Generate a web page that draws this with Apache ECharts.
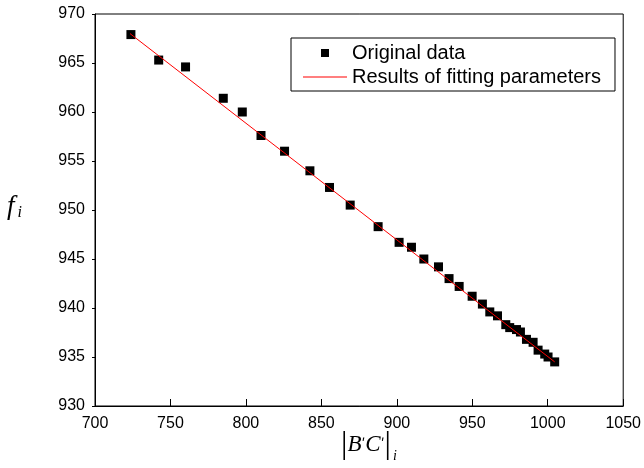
<!DOCTYPE html>
<html>
<head>
<meta charset="utf-8">
<script src="https://cdn.jsdelivr.net/npm/echarts@6/dist/echarts.min.js"></script>
<style>html,body{margin:0;padding:0;background:#fff}#c{width:644px;height:468px}</style>
</head>
<body>
<div id="c"></div>
<script>
var xValues = [723.8, 742.2, 760.0, 785.0, 797.6, 810.0, 825.6, 842.4, 855.4, 869.1, 887.6, 901.5, 909.7, 917.9, 927.6, 934.6, 941.3, 949.9, 956.7, 961.6, 966.7, 972.2, 974.8, 979.3, 981.9, 985.9, 990.3, 993.6, 998.0, 1000.2, 1004.6];
var yValues = [967.9, 965.3, 964.6, 961.4, 960.0, 957.6, 956.0, 954.0, 952.3, 950.5, 948.3, 946.7, 946.2, 945.0, 944.2, 943.0, 942.2, 941.2, 940.4, 939.6, 939.2, 938.3, 938.0, 937.8, 937.55, 936.8, 936.5, 935.7, 935.3, 935.0, 934.5];
var fitX = [723.2, 1004.6];
var fitY = [968.0, 934.5];
var xTicks = [700, 750, 800, 850, 900, 950, 1000, 1050];
var yTicks = [930, 935, 940, 945, 950, 955, 960, 965, 970];

var scatterData = xValues.map(function (x, i) { return [x, yValues[i]]; });
var fitData = fitX.map(function (x, i) { return [x, fitY[i]]; });

var chart = echarts.init(document.getElementById('c'), null, {renderer: 'canvas'});
var tickFont = {fontFamily: 'Liberation Sans, Arial, sans-serif', fontSize: 16, color: '#000'};
var serif = 'Liberation Serif, Times New Roman, serif';
chart.setOption({
  animation: false,
  backgroundColor: '#fff',
  grid: {left: 95, right: 20, top: 14, bottom: 62, show: true, borderColor: '#000', borderWidth: 1},
  xAxis: {
    type: 'value', min: xTicks[0], max: xTicks[xTicks.length - 1], interval: 50,
    axisLine: {show: true, onZero: false, lineStyle: {color: '#000', width: 1}},
    axisTick: {show: true, inside: true, length: 7, lineStyle: {color: '#000'}},
    axisLabel: Object.assign({margin: 10, formatter: function (v) { return String(v); }}, tickFont),
    splitLine: {show: false}
  },
  yAxis: {
    type: 'value', min: yTicks[0], max: yTicks[yTicks.length - 1], interval: 5,
    axisLine: {show: true, onZero: false, lineStyle: {color: '#000', width: 1}},
    axisTick: {show: true, inside: false, length: 3, lineStyle: {color: '#000'}},
    axisLabel: Object.assign({margin: 10, formatter: function (v) { return String(v); }}, tickFont),
    splitLine: {show: false}
  },
  legend: {
    orient: 'vertical', left: 291, top: 38,
    borderColor: '#000', borderWidth: 1, borderRadius: 0,
    padding: [4, 14, 3, 12], itemGap: 2,
    itemWidth: 44, itemHeight: 10,
    textStyle: {fontFamily: 'Liberation Sans, Arial, sans-serif', fontSize: 20, color: '#000', lineHeight: 22},
    data: [
      {name: 'Original data', icon: 'path://M0,0M44,10M18,1h8v8h-8z', itemStyle: {color: '#000', opacity: 1}},
      {name: 'Results of fitting parameters', icon: 'path://M0,0M44,10M0,4.5h44v1h-44z', itemStyle: {color: '#ff0000', opacity: 1}}
    ]
  },
  graphic: [
    {type: 'text', left: 7, top: 193, style: {
      text: '{f|f}{s|i}',
      rich: {
        f: {fontFamily: serif, fontStyle: 'italic', fontSize: 27, fill: '#000'},
        s: {fontFamily: serif, fontStyle: 'italic', fontSize: 16, fill: '#000', padding: [12, 0, 0, 3]}
      }
    }},
    {type: 'text', left: 341, top: 429, style: {
      text: '{b||}{it|B}{pr|\u02B9}{it|C}{pr|\u02B9}{b||}{s|i}',
      rich: {
        b: {fontFamily: serif, fontSize: 32, fill: '#000'},
        it: {fontFamily: serif, fontStyle: 'italic', fontSize: 23, fill: '#000'},
        pr: {fontFamily: 'DejaVu Sans, sans-serif', fontSize: 14, fill: '#000', verticalAlign: 'middle'},
        s: {fontFamily: serif, fontStyle: 'italic', fontSize: 14, fill: '#000', padding: [22, 0, 0, 2]}
      }
    }}
  ],
  series: [
    {
      name: 'Original data', type: 'scatter', data: scatterData,
      symbol: 'rect', symbolSize: 9, itemStyle: {color: '#000', opacity: 1}, z: 3
    },
    {
      name: 'Results of fitting parameters', type: 'line', data: fitData,
      symbol: 'none', showSymbol: false, lineStyle: {color: '#ff0000', width: 1}, itemStyle: {color: '#ff0000'}, z: 4
    }
  ]
});
</script>
</body>
</html>
